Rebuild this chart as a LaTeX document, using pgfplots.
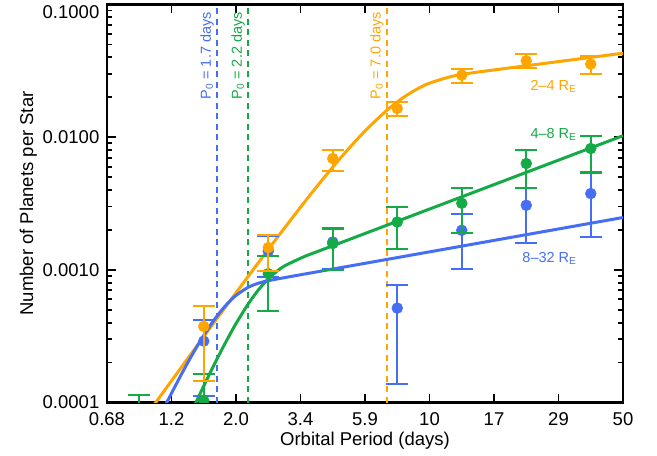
\documentclass[border=0pt]{standalone}
\usepackage{pgfplots}
\usepackage{pgfplotstable}
\pgfplotsset{compat=1.18}
\usepackage{fontspec}
\setmainfont{Liberation Sans}
\definecolor{corange}{RGB}{255,165,0}
\definecolor{cgreen}{RGB}{20,170,70}
\definecolor{cblue}{RGB}{70,110,245}

% binned occurrence: x y err_plus err_minus
\pgfplotstableread{
x y ep em
1.5222 3.748e-4 1.552e-4 2.300e-4
2.6049 1.471e-3 0.350e-3 0.492e-3
4.4578 6.907e-3 1.073e-3 1.339e-3
7.6284 0.01647 0.00200 0.00207
13.054 0.02937 0.00324 0.00394
22.339 0.03765 0.00466 0.00465
38.228 0.03556 0.00552 0.00567
}\orangedata

\pgfplotstableread{
x y ep em
0.8895 3e-5 8.43e-5 2e-5
1.5222 1.035e-4 0.592e-4 0.6e-4
2.6049 9.36e-4 3.35e-4 4.471e-4
4.4578 1.577e-3 0.470e-3 0.5735e-3
7.6284 2.295e-3 0.683e-3 0.850e-3
13.054 3.177e-3 0.967e-3 1.281e-3
22.339 6.331e-3 1.689e-3 2.158e-3
38.228 8.215e-3 2.045e-3 2.772e-3
}\greendata

\pgfplotstableread{
x y ep em
1.5222 2.901e-4 1.258e-4 1.772e-4
2.6049 1.387e-3 0.403e-3 0.5044e-3
4.4578 1.621e-3 0.447e-3 0.600e-3
7.6284 5.149e-4 2.489e-4 3.782e-4
13.054 1.987e-3 0.659e-3 0.975e-3
22.339 3.068e-3 1.105e-3 1.464e-3
38.228 3.759e-3 1.591e-3 1.991e-3
}\bluedata

% fitted curves
\pgfplotstableread{
x y
0.95 8.16e-5
1.0 9.45e-5
1.2 1.591e-4
1.5 3.008e-4
1.8 5.05e-4
2.2 8.885e-4
2.6 1.417e-3
3.0 2.100e-3
3.5 3.184e-3
4.0 4.518e-3
4.5 6.088e-3
5.0 7.860e-3
5.5 9.788e-3
6.0 0.01182
7.0 0.01596
8.0 0.01982
9.0 0.02307
10 0.02558
12 0.02870
14 0.03038
17 0.03208
20 0.03352
25 0.03560
30 0.03740
40 0.04043
50 0.04293
}\orangefit

\pgfplotstableread{
x y
1.4 9.21e-5
1.5 1.250e-4
1.6 1.651e-4
1.7 2.129e-4
1.8 2.682e-4
1.9 3.306e-4
2.0 3.994e-4
2.2 5.499e-4
2.4 7.06e-4
2.6 8.515e-4
2.8 9.763e-4
3.0 1.0765e-3
3.5 1.2533e-3
4.0 1.395e-3
5 1.664e-3
6 1.922e-3
8 2.412e-3
10 2.877e-3
14 3.753e-3
20 4.974e-3
30 6.854e-3
40 8.602e-3
50 0.01026
}\greenfit

\pgfplotstableread{
x y
1.1 9.34e-5
1.2 1.330e-4
1.3 1.820e-4
1.4 2.398e-4
1.5 3.052e-4
1.6 3.758e-4
1.7 4.486e-4
1.8 5.200e-4
1.9 5.870e-4
2.0 6.461e-4
2.2 7.37e-4
2.4 7.93e-4
2.6 8.28e-4
3.0 8.756e-4
3.5 9.27e-4
5 1.058e-3
7 1.1983e-3
10 1.3673e-3
15 1.5886e-3
20 1.7672e-3
30 2.0532e-3
50 2.4805e-3
}\bluefit

\begin{document}
\begin{tikzpicture}
\begin{axis}[
  width=516pt, height=398pt, scale only axis,
  xmode=log, ymode=log,
  xmin=0.68, xmax=50, ymin=1e-4, ymax=0.1,
  xtick={0.68,1.16366,1.99132,3.40767,5.83141,9.97906,17.0768,29.2228,50},
  xticklabels={0.68,1.2,2.0,3.4,5.9,10,17,29,50},
  ytick={1e-4,1e-3,1e-2,1e-1},
  yticklabels={0.0001,0.0010,0.0100,{\raisebox{-8pt}[\height][\depth]{0.1000}}},
  minor ytick={2e-4,3e-4,4e-4,5e-4,6e-4,7e-4,8e-4,9e-4,
               2e-3,3e-3,4e-3,5e-3,6e-3,7e-3,8e-3,9e-3,
               2e-2,3e-2,4e-2,5e-2,6e-2,7e-2,8e-2,9e-2},
  /pgf/number format/assume math mode=true,
  axis line style={line width=2.5pt},
  major tick length=9pt, minor tick length=5pt,
  every tick/.style={black, line width=1.8pt},
  tick label style={font=\fontsize{18.5}{22}\selectfont},
  xticklabel style={inner sep=0pt, anchor=north, yshift=-10pt},
  yticklabel style={inner sep=0pt, anchor=east, xshift=-7.5pt},
  label style={font=\fontsize{18.5}{22}\selectfont},
  xlabel={Orbital Period (days)},
  ylabel={Number of Planets per Star},
  xlabel style={at={(axis description cs:0.5,-0.107)}, anchor=base},
  ylabel style={at={(axis description cs:-0.1434,0.5)}, anchor=base},
  clip marker paths=true,
]
% threshold periods
\addplot[cblue, line width=2pt, dash pattern=on 6pt off 4.5pt] coordinates {(1.7,1e-4) (1.7,0.1)};
\addplot[cgreen, line width=2pt, dash pattern=on 6pt off 4.5pt] coordinates {(2.2,1e-4) (2.2,0.1)};
\addplot[corange, line width=2pt, dash pattern=on 6pt off 4.5pt] coordinates {(7.0,1e-4) (7.0,0.1)};

\node[rotate=90, anchor=south east, inner sep=0pt, text=cblue, font=\fontsize{14.5}{17}\selectfont]
  at ([xshift=-3pt,yshift=-7.5pt]axis cs:1.7,0.1) {P\textsubscript{0} = 1.7 days};
\node[rotate=90, anchor=south east, inner sep=0pt, text=cgreen, font=\fontsize{14.5}{17}\selectfont]
  at ([xshift=-3pt,yshift=-7.5pt]axis cs:2.2,0.1) {P\textsubscript{0} = 2.2 days};
\node[rotate=90, anchor=south east, inner sep=0pt, text=corange, font=\fontsize{14.5}{17}\selectfont]
  at ([xshift=-3pt,yshift=-7.5pt]axis cs:7.0,0.1) {P\textsubscript{0} = 7.0 days};

% fits
\addplot[corange, line width=3pt, smooth] table[x=x,y=y] {\orangefit};
\addplot[cgreen, line width=3pt, smooth] table[x=x,y=y] {\greenfit};
\addplot[cblue, line width=3pt, smooth] table[x=x,y=y] {\bluefit};

% binned data
\addplot[cblue, only marks, mark=*, mark size=5.5pt,
  error bars/.cd, y dir=both, y explicit, error mark=-,
  error bar style={line width=2pt, cblue},
  error mark options={rotate=90, mark size=10.8pt, line width=2pt, cblue}]
  table[x=x, y=y, y error plus=ep, y error minus=em] {\bluedata};
\addplot[cgreen, only marks, mark=*, mark size=5.5pt,
  error bars/.cd, y dir=both, y explicit, error mark=-,
  error bar style={line width=2pt, cgreen},
  error mark options={rotate=90, mark size=10.8pt, line width=2pt, cgreen}]
  table[x=x, y=y, y error plus=ep, y error minus=em] {\greendata};
\addplot[corange, only marks, mark=*, mark size=5.5pt,
  error bars/.cd, y dir=both, y explicit, error mark=-,
  error bar style={line width=2pt, corange},
  error mark options={rotate=90, mark size=10.8pt, line width=2pt, corange}]
  table[x=x, y=y, y error plus=ep, y error minus=em] {\orangedata};

% series labels
\node[anchor=base east, inner sep=0pt, text=corange, font=\fontsize{14.5}{17}\selectfont]
  at (axis cs:34.0,0.02263) {2--4 R\textsubscript{E}};
\node[anchor=base east, inner sep=0pt, text=cgreen, font=\fontsize{14.5}{17}\selectfont]
  at (axis cs:34.0,0.00977) {4--8 R\textsubscript{E}};
\node[anchor=base east, inner sep=0pt, text=cblue, font=\fontsize{14.5}{17}\selectfont]
  at (axis cs:34.0,0.001145) {8--32 R\textsubscript{E}};
\end{axis}
\pgfresetboundingbox
\path ([xshift=-107pt,yshift=-52.5pt]current axis.south west) rectangle ([xshift=34pt,yshift=4.5pt]current axis.north east);
\end{tikzpicture}
\end{document}
